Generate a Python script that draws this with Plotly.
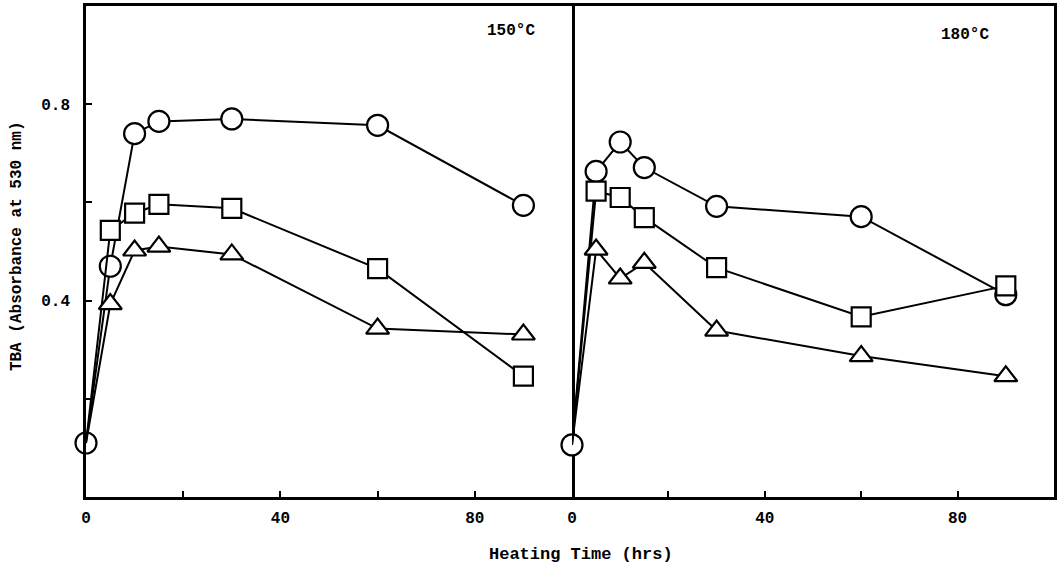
import plotly.graph_objects as go

time_hrs = [0, 5, 10, 15, 30, 60, 90]

# 150 °C panel
c150_circle = [0.11, 0.47, 0.74, 0.765, 0.77, 0.757, 0.594]
c150_square = [0.11, 0.543, 0.578, 0.596, 0.588, 0.465, 0.246]
c150_triangle = [0.11, 0.393, 0.502, 0.51, 0.494, 0.343, 0.331]

# 180 °C panel
c180_circle = [0.106, 0.663, 0.723, 0.671, 0.592, 0.571, 0.412]
c180_square = [0.106, 0.623, 0.61, 0.569, 0.467, 0.367, 0.43]
c180_triangle = [0.106, 0.504, 0.445, 0.477, 0.339, 0.287, 0.246]

panel_labels = ["150°C", "180°C"]
x_tickvals = [0, 20, 40, 60, 80]
x_ticktext = ["0", "", "40", "", "80"]
y_tickvals = [0.2, 0.4, 0.6, 0.8]
y_ticktext = ["", "0.4", "", "0.8"]

FONT = "Liberation Mono"

fig = go.Figure()

# first point (t=0) is shared; only the circle series shows a marker there
hide_first = [0] + [1] * (len(time_hrs) - 1)

series = [
    ("x", "y", c150_circle, "circle", 21, None),
    ("x2", "y2", c180_circle, "circle", 21, None),
    ("x", "y", c150_square, "square", 19, hide_first),
    ("x2", "y2", c180_square, "square", 19, hide_first),
    ("x", "y", c150_triangle, "triangle-up", 20, hide_first),
    ("x2", "y2", c180_triangle, "triangle-up", 20, hide_first),
]

for xa, ya, vals, sym, sz, op in series:
    fig.add_trace(go.Scatter(
        x=time_hrs, y=vals, xaxis=xa, yaxis=ya,
        mode="lines+markers",
        line=dict(color="black", width=2),
        marker=dict(symbol=sym, size=sz, color="white",
                    opacity=op if op is not None else 1,
                    line=dict(color="black", width=2.2)),
        showlegend=False, cliponaxis=False,
    ))

tick_font = dict(family=FONT, size=16, color="black", weight="bold")

axis_common = dict(
    showline=True, linecolor="black", linewidth=2.5, mirror=True,
    showgrid=False, zeroline=False,
    ticks="inside", ticklen=6, tickwidth=2, tickcolor="black",
    tickfont=tick_font,
)

split = (572 - 86) / (1054 - 86)

fig.update_layout(
    width=1057, height=570, autosize=False,
    paper_bgcolor="white", plot_bgcolor="white",
    margin=dict(l=86, r=3, t=6, b=73),
    xaxis=dict(domain=[0, split], range=[0, 100], tickvals=x_tickvals,
               ticktext=x_ticktext, ticklabelstandoff=4, **axis_common),
    xaxis2=dict(domain=[split, 1], range=[0, 100], tickvals=x_tickvals,
                ticktext=x_ticktext, ticklabelstandoff=4, anchor="y2",
                **axis_common),
    yaxis=dict(range=[0, 1.0], tickvals=y_tickvals, ticktext=y_ticktext,
               ticklabelstandoff=10, **axis_common),
    yaxis2=dict(range=[0, 1.0], anchor="x2", side="right",
                showticklabels=False, showline=True, linecolor="black",
                linewidth=2.5, mirror=False, showgrid=False,
                zeroline=False, ticks=""),
    annotations=[
        dict(text="<b>" + panel_labels[0] + "</b>", x=87.4, y=0.95,
             xref="x", yref="y", showarrow=False,
             font=dict(family=FONT, size=16, color="black")),
        dict(text="<b>" + panel_labels[1] + "</b>", x=81.5, y=0.94,
             xref="x2", yref="y2", showarrow=False,
             font=dict(family=FONT, size=16, color="black")),
        dict(text="<b>Heating Time (hrs)</b>", x=0.511, y=-0.118,
             xref="paper", yref="paper", showarrow=False,
             xanchor="center", yanchor="middle",
             font=dict(family=FONT, size=17, color="black")),
        dict(text="<b>TBA (Absorbance at 530 nm)</b>", x=-0.0713, y=0.511,
             xref="paper", yref="paper", showarrow=False, textangle=-90,
             xanchor="center", yanchor="middle",
             font=dict(family=FONT, size=16, color="black")),
    ],
)

fig.write_html(
    "out.html",
    config={"displayModeBar": False},
    post_script="document.body.style.margin='0';document.body.style.overflow='hidden';",
)
